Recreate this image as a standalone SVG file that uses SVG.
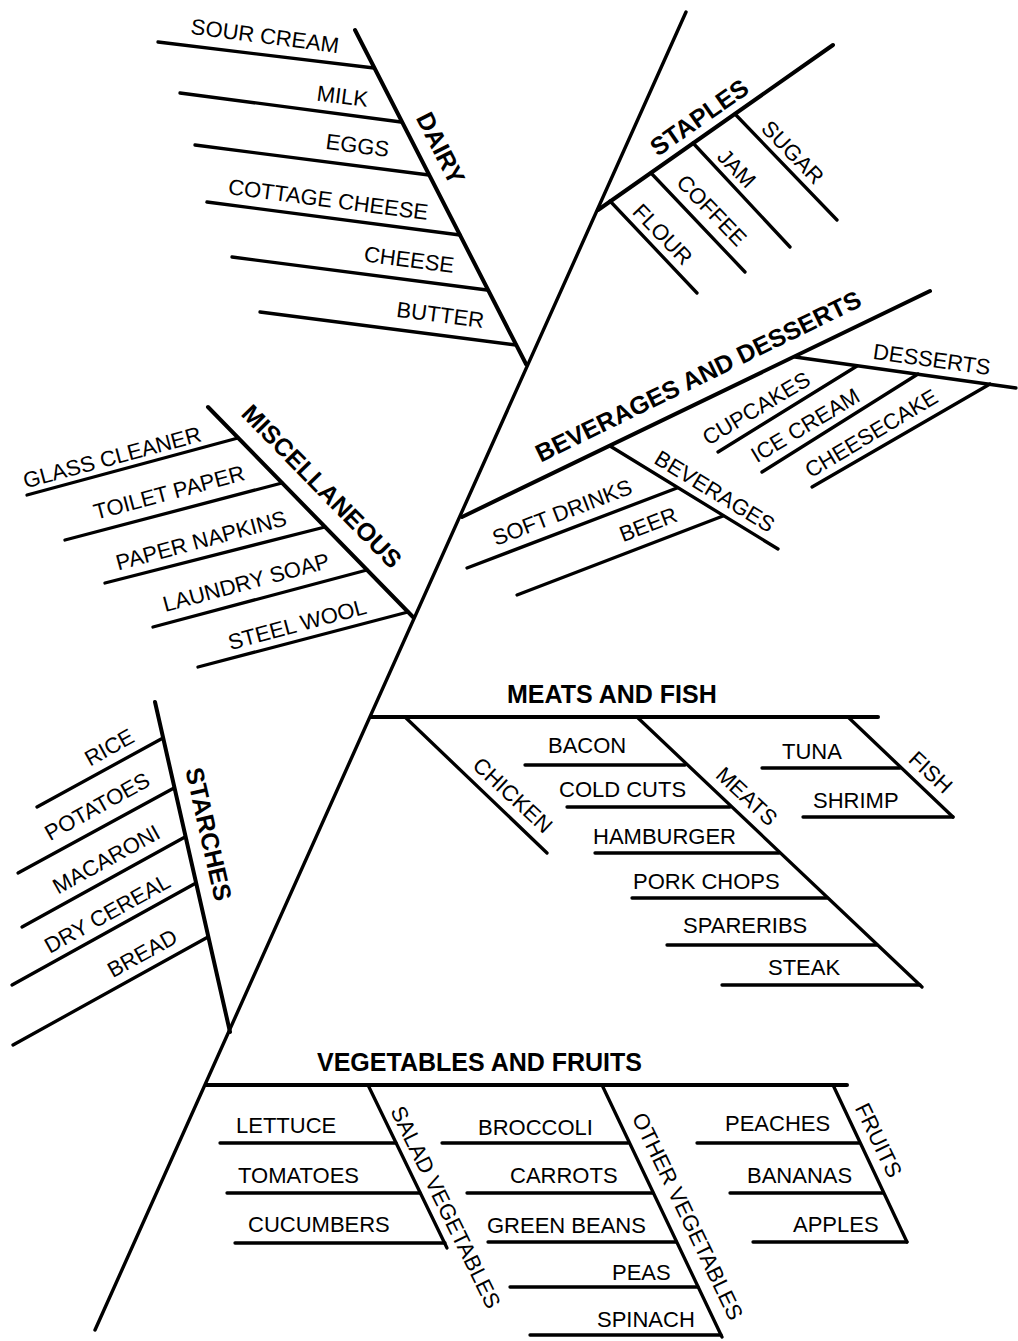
<svg xmlns="http://www.w3.org/2000/svg" width="1018" height="1341" viewBox="0 0 1018 1341">
  <style>
    line, path { stroke: #000; stroke-linecap: round; fill: none; }
    .spine { stroke-width: 3.4; }
    .branch { stroke-width: 4; }
    .item { stroke-width: 3.3; }
    text { font-family: "Liberation Sans", Arial, Helvetica, sans-serif; fill: #000; }
    .t { font-size: 22px; }
    .b { font-size: 25px; font-weight: bold; }
  </style>
  <rect width="1018" height="1341" fill="#fff"/>

  <!-- spine and category branches -->
  <g id="connectors">
    <line class="spine" x1="686" y1="12" x2="95" y2="1330"/>
    <line class="branch" x1="355" y1="30" x2="526" y2="364"/>
    <line class="branch" x1="598" y1="210" x2="833" y2="45"/>
    <line class="branch" x1="462" y1="517" x2="930" y2="291"/>
    <line class="branch" x1="208" y1="407" x2="413" y2="617"/>
    <line class="branch" x1="155" y1="702" x2="230" y2="1032"/>
    <line class="branch" x1="371" y1="717" x2="878" y2="717"/>
    <line class="branch" x1="206" y1="1085" x2="847" y2="1085"/>
    <!-- sub-branches -->
    <line class="item" x1="610" y1="446" x2="778" y2="549"/>
    <line class="item" x1="795" y1="357" x2="1016" y2="388"/>
    <line class="item" x1="637" y1="717" x2="922" y2="987"/>
    <line class="item" x1="848" y1="717" x2="953" y2="817"/>
    <line class="item" x1="368" y1="1085" x2="447" y2="1248"/>
    <line class="item" x1="602" y1="1085" x2="722" y2="1337"/>
    <line class="item" x1="833" y1="1085" x2="907" y2="1242"/>
  </g>

  <!-- DAIRY -->
  <g id="dairy">
    <line class="item" x1="158" y1="42" x2="374" y2="68"/>
    <line class="item" x1="180" y1="93" x2="401" y2="122"/>
    <line class="item" x1="195" y1="145" x2="429" y2="175"/>
    <line class="item" x1="207" y1="202" x2="460" y2="235"/>
    <line class="item" x1="232" y1="257" x2="487" y2="290"/>
    <line class="item" x1="260" y1="312" x2="516" y2="345"/>
    <text class="t" text-anchor="end" transform="translate(338,53) rotate(7.4)">SOUR CREAM</text>
    <text class="t" text-anchor="end" transform="translate(367,107) rotate(7.4)">MILK</text>
    <text class="t" text-anchor="end" transform="translate(388,157) rotate(7.4)">EGGS</text>
    <text class="t" text-anchor="end" transform="translate(427,220) rotate(7.4)">COTTAGE CHEESE</text>
    <text class="t" text-anchor="end" transform="translate(453,273) rotate(7.4)">CHEESE</text>
    <text class="t" text-anchor="end" transform="translate(483,328) rotate(7.4)">BUTTER</text>
    <text class="b" text-anchor="middle" y="9" transform="translate(441,148) rotate(63)">DAIRY</text>
  </g>

  <!-- STAPLES -->
  <g id="staples">
    <line class="item" x1="610" y1="201" x2="697" y2="293"/>
    <line class="item" x1="651" y1="173" x2="745" y2="272"/>
    <line class="item" x1="693" y1="143" x2="790" y2="247"/>
    <line class="item" x1="735" y1="114" x2="837" y2="220"/>
    <text class="t" text-anchor="middle" y="8" transform="translate(663,234) rotate(46)">FLOUR</text>
    <text class="t" text-anchor="middle" y="8" transform="translate(712,210) rotate(46)">COFFEE</text>
    <text class="t" text-anchor="middle" y="8" transform="translate(737,168) rotate(46)">JAM</text>
    <text class="t" text-anchor="middle" y="8" transform="translate(793,152) rotate(46)">SUGAR</text>
    <text class="b" text-anchor="middle" y="9" transform="translate(699,117) rotate(-35)">STAPLES</text>
  </g>

  <!-- BEVERAGES AND DESSERTS -->
  <g id="beverages-desserts">
    <text class="b" text-anchor="middle" y="9" transform="translate(698,376) rotate(-26)">BEVERAGES AND DESSERTS</text>
    <g id="beverages">
      <line class="item" x1="467" y1="568" x2="677" y2="488"/>
      <line class="item" x1="517" y1="595" x2="723" y2="516"/>
      <text class="t" text-anchor="middle" y="8" transform="translate(715,491) rotate(31.3)">BEVERAGES</text>
      <text class="t" text-anchor="middle" y="8" transform="translate(562,512) rotate(-21)">SOFT DRINKS</text>
      <text class="t" text-anchor="middle" y="8" transform="translate(648,524) rotate(-21)">BEER</text>
    </g>
    <g id="desserts">
      <line class="item" x1="718" y1="452" x2="857" y2="366"/>
      <line class="item" x1="762" y1="472" x2="918" y2="374"/>
      <line class="item" x1="812" y1="487" x2="990" y2="384"/>
      <text class="t" text-anchor="middle" y="8" transform="translate(932,359) rotate(8)">DESSERTS</text>
      <text class="t" text-anchor="middle" y="8" transform="translate(756,408) rotate(-31)">CUPCAKES</text>
      <text class="t" text-anchor="middle" y="8" transform="translate(805,425) rotate(-31)">ICE CREAM</text>
      <text class="t" text-anchor="middle" y="8" transform="translate(871,433) rotate(-31)">CHEESECAKE</text>
    </g>
  </g>

  <!-- MISCELLANEOUS -->
  <g id="miscellaneous">
    <line class="item" x1="27" y1="495" x2="238" y2="438"/>
    <line class="item" x1="65" y1="540" x2="282" y2="483"/>
    <line class="item" x1="105" y1="583" x2="325" y2="527"/>
    <line class="item" x1="153" y1="627" x2="367" y2="570"/>
    <line class="item" x1="198" y1="667" x2="408" y2="612"/>
    <text class="t" text-anchor="middle" y="8" transform="translate(112,457) rotate(-15)">GLASS CLEANER</text>
    <text class="t" text-anchor="middle" y="8" transform="translate(169,492) rotate(-15)">TOILET PAPER</text>
    <text class="t" text-anchor="middle" y="8" transform="translate(201,540) rotate(-15)">PAPER NAPKINS</text>
    <text class="t" text-anchor="middle" y="8" transform="translate(246,582) rotate(-15)">LAUNDRY SOAP</text>
    <text class="t" text-anchor="middle" y="8" transform="translate(297,624) rotate(-15)">STEEL WOOL</text>
    <text class="b" text-anchor="middle" y="9" transform="translate(322,486) rotate(45.7)">MISCELLANEOUS</text>
  </g>

  <!-- STARCHES -->
  <g id="starches">
    <line class="item" x1="37" y1="807" x2="163" y2="738"/>
    <line class="item" x1="18" y1="873" x2="174" y2="788"/>
    <line class="item" x1="22" y1="927" x2="185" y2="837"/>
    <line class="item" x1="12" y1="985" x2="196" y2="883"/>
    <line class="item" x1="13" y1="1045" x2="208" y2="937"/>
    <text class="t" text-anchor="middle" y="8" transform="translate(109,747) rotate(-29)">RICE</text>
    <text class="t" text-anchor="middle" y="8" transform="translate(97,806) rotate(-29)">POTATOES</text>
    <text class="t" text-anchor="middle" y="8" transform="translate(106,859) rotate(-29)">MACARONI</text>
    <text class="t" text-anchor="middle" y="8" transform="translate(107,913) rotate(-29)">DRY CEREAL</text>
    <text class="t" text-anchor="middle" y="8" transform="translate(142,953) rotate(-29)">BREAD</text>
    <text class="b" text-anchor="middle" y="9" transform="translate(209,834) rotate(77.2)">STARCHES</text>
  </g>

  <!-- MEATS AND FISH -->
  <g id="meats-fish">
    <text class="b" x="507" y="703">MEATS AND FISH</text>
    <g id="chicken">
      <line class="item" x1="405" y1="717" x2="547" y2="853"/>
      <text class="t" text-anchor="middle" y="8" transform="translate(513,795) rotate(43)">CHICKEN</text>
    </g>
    <g id="meats">
      <line class="item" x1="525" y1="765" x2="685" y2="765"/>
      <line class="item" x1="567" y1="807" x2="730" y2="807"/>
      <line class="item" x1="595" y1="853" x2="779" y2="853"/>
      <line class="item" x1="632" y1="898" x2="827" y2="898"/>
      <line class="item" x1="667" y1="945" x2="877" y2="945"/>
      <line class="item" x1="722" y1="985" x2="920" y2="985"/>
      <text class="t" x="548" y="753">BACON</text>
      <text class="t" x="559" y="797">COLD CUTS</text>
      <text class="t" x="593" y="844">HAMBURGER</text>
      <text class="t" x="633" y="889">PORK CHOPS</text>
      <text class="t" x="683" y="933">SPARERIBS</text>
      <text class="t" x="768" y="975">STEAK</text>
      <text class="t" text-anchor="middle" y="8" transform="translate(747,796) rotate(43)">MEATS</text>
    </g>
    <g id="fish">
      <line class="item" x1="762" y1="768" x2="900" y2="768"/>
      <line class="item" x1="803" y1="817" x2="953" y2="817"/>
      <text class="t" x="782" y="759">TUNA</text>
      <text class="t" x="813" y="808">SHRIMP</text>
      <text class="t" text-anchor="middle" y="8" transform="translate(931,772) rotate(43)">FISH</text>
    </g>
  </g>

  <!-- VEGETABLES AND FRUITS -->
  <g id="vegetables-fruits">
    <text class="b" x="317" y="1071">VEGETABLES AND FRUITS</text>
    <g id="salad-vegetables">
      <line class="item" x1="220" y1="1143" x2="396" y2="1143"/>
      <line class="item" x1="227" y1="1193" x2="420" y2="1193"/>
      <line class="item" x1="235" y1="1243" x2="445" y2="1243"/>
      <text class="t" x="236" y="1133">LETTUCE</text>
      <text class="t" x="238" y="1183">TOMATOES</text>
      <text class="t" x="248" y="1232">CUCUMBERS</text>
      <text class="t" text-anchor="middle" y="8" transform="translate(446,1207) rotate(63.9)">SALAD VEGETABLES</text>
    </g>
    <g id="other-vegetables">
      <line class="item" x1="442" y1="1143" x2="628" y2="1143"/>
      <line class="item" x1="467" y1="1193" x2="653" y2="1193"/>
      <line class="item" x1="488" y1="1242" x2="676" y2="1242"/>
      <line class="item" x1="510" y1="1287" x2="698" y2="1287"/>
      <line class="item" x1="530" y1="1335" x2="721" y2="1335"/>
      <text class="t" x="478" y="1135">BROCCOLI</text>
      <text class="t" x="510" y="1183">CARROTS</text>
      <text class="t" x="487" y="1233">GREEN BEANS</text>
      <text class="t" x="612" y="1280">PEAS</text>
      <text class="t" x="597" y="1327">SPINACH</text>
      <text class="t" text-anchor="middle" y="8" transform="translate(688,1216) rotate(64.3)">OTHER VEGETABLES</text>
    </g>
    <g id="fruits">
      <line class="item" x1="697" y1="1143" x2="859" y2="1143"/>
      <line class="item" x1="730" y1="1193" x2="883" y2="1193"/>
      <line class="item" x1="753" y1="1242" x2="907" y2="1242"/>
      <text class="t" x="725" y="1131">PEACHES</text>
      <text class="t" x="747" y="1183">BANANAS</text>
      <text class="t" x="793" y="1232">APPLES</text>
      <text class="t" text-anchor="middle" y="8" transform="translate(879,1140) rotate(64.3)">FRUITS</text>
    </g>
  </g>
</svg>
